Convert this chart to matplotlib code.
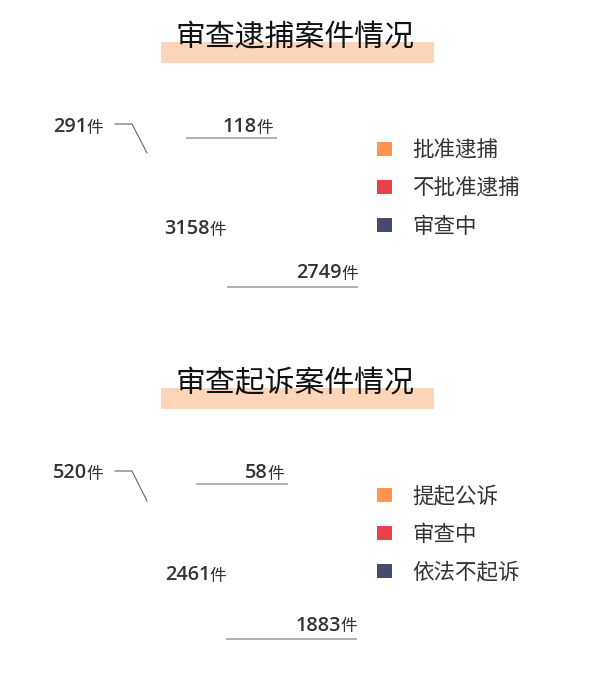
import matplotlib
matplotlib.use("Agg")
import matplotlib.pyplot as plt
from matplotlib.patches import Rectangle

# ---- data ----
titles = ['审查逮捕案件情况', '审查起诉案件情况']
arrest_labels = ['批准逮捕', '不批准逮捕', '审查中']
arrest_values = [2749, 291, 118]
prosecute_labels = ['提起公诉', '审查中', '依法不起诉']
prosecute_values = [1883, 520, 58]
unit = '件'
colors = ['#FF9450', '#E8414C', '#464B6E']

# ---- layout (pixels, y downward) ----
layouts = [
    dict(title_y=45, bar=(161, 42, 434, 63),
         legend_y=[149, 187, 225],
         total=(226, 234),
         bottom=(358, 278, 227, 287),
         left=(103, 132), leader=[(115, 124), (132, 124), (147, 153)],
         mid=(273, 132, 186, 138)),
    dict(title_y=392, bar=(161, 388, 434, 409),
         legend_y=[495, 533, 571],
         total=(226, 580),
         bottom=(357, 631, 226, 639),
         left=(103, 478), leader=[(115, 471), (132, 471), (147, 501)],
         mid=(284, 478, 196, 484)),
]

W, H = 600, 674
fig = plt.figure(figsize=(W / 100, H / 100), dpi=100)
ax = fig.add_axes([0, 0, 1, 1])
ax.set_xlim(0, W)
ax.set_ylim(H, 0)
ax.axis('off')

CJK = ['Noto Sans CJK SC', 'DejaVu Sans']
TXT = '#333333'


def value_label(x_end, y_base, value):
    ax.text(x_end - 16, y_base, str(value), ha='right', va='baseline',
            fontsize=14.3, fontfamily=['Open Sans', 'DejaVu Sans'],
            fontweight='semibold', color=TXT)
    ax.text(x_end - 17, y_base + 0.5, unit, ha='left', va='baseline',
            fontsize=12, fontfamily=CJK, color=TXT)


for title, labels, values, L in zip(titles,
                                    [arrest_labels, prosecute_labels],
                                    [arrest_values, prosecute_values],
                                    layouts):
    # title with highlight bar
    x0, y0, x1, y1 = L['bar']
    ax.add_patch(Rectangle((x0, y0), x1 - x0, y1 - y0, facecolor='#FDD5B8',
                           edgecolor='none', zorder=1))
    ax.text(295.5, L['title_y'], title, ha='center', va='baseline',
            fontsize=21.5, fontfamily=CJK, color='#111111', zorder=2)

    # legend
    for lab, col, ly in zip(labels, colors, L['legend_y']):
        ax.add_patch(Rectangle((377, ly - 7), 15, 14, facecolor=col,
                               edgecolor='none'))
        ax.text(412, ly + 8, lab, ha='left', va='baseline', fontsize=15.5,
                fontfamily=CJK, color=TXT)

    # total in the centre
    value_label(L['total'][0], L['total'][1], sum(values))

    # slice 0 (bottom, underlined)
    xe, yb, ux0, uy = L['bottom']
    value_label(xe, yb, values[0])
    ax.plot([ux0, xe], [uy, uy], color='#AAAAAA', lw=1.3,
            solid_capstyle='butt')

    # slice 1 (top-left with leader line)
    value_label(L['left'][0], L['left'][1], values[1])
    lx, ly = zip(*L['leader'])
    ax.plot(lx, ly, color='#666666', lw=0.8)

    # slice 2 (top-middle, underlined)
    xe, yb, ux0, uy = L['mid']
    value_label(xe, yb, values[2])
    ax.plot([ux0, xe + 4], [uy, uy], color='#AAAAAA', lw=1.3,
            solid_capstyle='butt')

fig.savefig('out.png', dpi=100, facecolor='white')
